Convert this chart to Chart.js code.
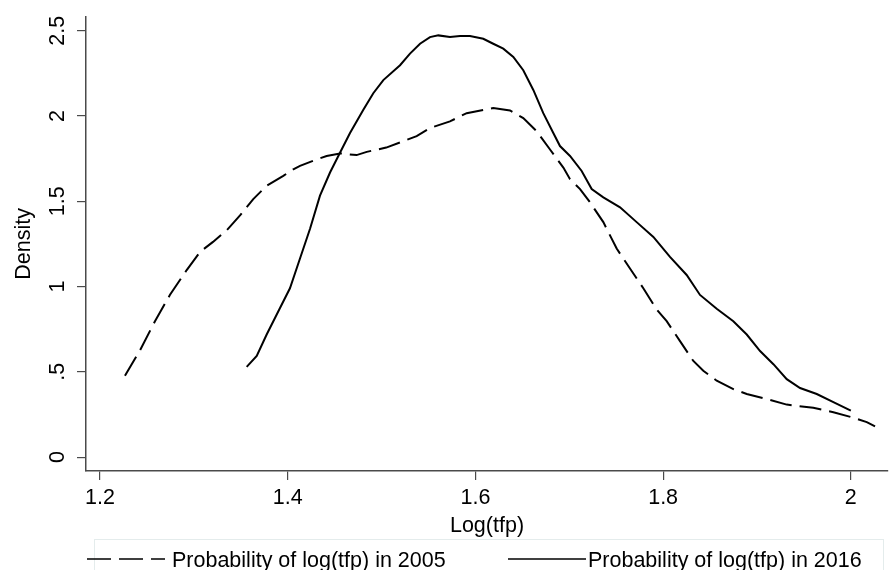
<!DOCTYPE html>
<html>
<head>
<meta charset="utf-8">
<script src="https://cdn.jsdelivr.net/npm/chart.js@4"></script>
<style>
  html, body { margin: 0; padding: 0; background: #ffffff; }
  #c { display: block; }
</style>
</head>
<body>
<canvas id="c" width="891" height="570"></canvas>
<script>
// ---- data ----
const x2005 = [1.2266,1.2426,1.2586,1.2746,1.2924,1.3066,1.3204,1.335,1.3492,1.3633,1.3776,1.3953,1.406,1.4131,1.4309,1.4415,1.4557,1.4734,1.4842,1.505,1.5374,1.5516,1.5729,1.5907,1.619,1.6369,1.651,1.6652,1.6795,1.6937,1.7008,1.7115,1.7221,1.7363,1.7505,1.7647,1.7789,1.7932,1.8038,1.818,1.8322,1.8428,1.8571,1.8748,1.8891,1.9104,1.9317,1.96,1.9814,2.0027,2.017,2.0258];
const y2005 = [0.477,0.626,0.797,0.952,1.097,1.203,1.262,1.330,1.417,1.513,1.591,1.649,1.688,1.708,1.746,1.766,1.781,1.771,1.790,1.815,1.882,1.930,1.969,2.017,2.047,2.033,1.988,1.911,1.804,1.698,1.630,1.572,1.494,1.378,1.223,1.106,0.990,0.865,0.797,0.680,0.564,0.506,0.448,0.399,0.370,0.341,0.308,0.289,0.263,0.231,0.205,0.180];
const x2016 = [1.3563,1.367,1.3776,1.3918,1.4024,1.4131,1.4238,1.4344,1.4451,1.4557,1.4664,1.4806,1.4912,1.5019,1.5197,1.5303,1.541,1.5516,1.5605,1.5729,1.5836,1.5942,1.6084,1.619,1.6297,1.6404,1.651,1.6617,1.6723,1.683,1.6901,1.7008,1.7132,1.7239,1.7363,1.7541,1.7718,1.7896,1.8073,1.8251,1.8393,1.8571,1.8748,1.8891,1.9033,1.9175,1.9317,1.9459,1.9637,1.9814,2.0];
const y2016 = [0.529,0.593,0.719,0.874,0.990,1.165,1.339,1.533,1.669,1.785,1.901,2.037,2.134,2.211,2.298,2.366,2.424,2.463,2.473,2.463,2.469,2.469,2.453,2.424,2.395,2.347,2.269,2.153,2.017,1.901,1.824,1.766,1.678,1.572,1.523,1.465,1.378,1.291,1.174,1.068,0.951,0.870,0.797,0.719,0.622,0.545,0.457,0.405,0.370,0.322,0.273];
const xTicks = [1.2, 1.4, 1.6, 1.8, 2.0];
const xTickLabels = ["1.2", "1.4", "1.6", "1.8", "2"];
const yTicks = [0, 0.5, 1, 1.5, 2, 2.5];
const yTickLabels = ["0", ".5", "1", "1.5", "2", "2.5"];
const seriesNames = ["Probability of log(tfp) in 2005", "Probability of log(tfp) in 2016"];
const xTitle = "Log(tfp)";
const yTitle = "Density";

const FONT = "'Liberation Sans', Arial, Helvetica, sans-serif";
const FS = 21.5;
const AXIS_COLOR = '#4a4a4a';

const toPoints = (xs, ys) => xs.map((x, i) => ({ x: x, y: ys[i] }));

const legendPlugin = {
  id: 'stataLegend',
  afterDraw(chart) {
    const ctx = chart.ctx;
    ctx.save();
    // faint legend frame
    ctx.strokeStyle = '#e4ecec';
    ctx.lineWidth = 1;
    ctx.strokeRect(94.5, 539.5, 789, 40);
    const ds = chart.data.datasets;
    const items = [
      { x0: 87, x1: 165, tx: 172, dash: [24, 8] },
      { x0: 508, x1: 586, tx: 588, dash: [] }
    ];
    items.forEach((it, i) => {
      ctx.beginPath();
      ctx.setLineDash(it.dash);
      ctx.strokeStyle = ds[i].borderColor;
      ctx.lineWidth = 1.6;
      ctx.moveTo(it.x0, 559);
      ctx.lineTo(it.x1, 559);
      ctx.stroke();
      ctx.setLineDash([]);
      ctx.fillStyle = '#000000';
      ctx.font = FS + 'px ' + FONT;
      ctx.textAlign = 'left';
      ctx.textBaseline = 'alphabetic';
      ctx.fillText(ds[i].label, it.tx, 567);
    });
    ctx.restore();
  }
};

new Chart(document.getElementById('c'), {
  type: 'line',
  data: {
    datasets: [
      {
        label: seriesNames[0],
        data: toPoints(x2005, y2005),
        borderColor: '#000000',
        borderWidth: 2,
        borderDash: [22, 8],
        pointRadius: 0,
        tension: 0,
        fill: false
      },
      {
        label: seriesNames[1],
        data: toPoints(x2016, y2016),
        borderColor: '#000000',
        borderWidth: 2,
        pointRadius: 0,
        tension: 0,
        fill: false
      }
    ]
  },
  options: {
    responsive: false,
    animation: false,
    devicePixelRatio: 1,
    layout: { padding: { top: 13, right: 3, bottom: 0, left: 0 } },
    plugins: {
      legend: { display: false },
      tooltip: { enabled: false }
    },
    scales: {
      x: {
        type: 'linear',
        min: 1.1851,
        max: 2.0396,
        afterBuildTicks: (s) => { s.ticks = xTicks.map(v => ({ value: v })); },
        afterFit: (s) => { s.height = 99; },
        border: { display: true, color: AXIS_COLOR, width: 1.5 },
        grid: { display: true, drawOnChartArea: false, drawTicks: true, tickLength: 9, color: AXIS_COLOR, lineWidth: 1.2 },
        ticks: {
          color: '#000000',
          padding: 5,
          maxRotation: 0,
          autoSkip: false,
          font: { family: FONT, size: FS },
          callback: (v) => { const i = xTicks.findIndex(t => Math.abs(t - v) < 1e-9); return i >= 0 ? xTickLabels[i] : ''; }
        },
        title: {
          display: true,
          text: xTitle,
          color: '#000000',
          font: { family: FONT, size: FS },
          padding: { top: 0, bottom: 31 }
        }
      },
      y: {
        type: 'linear',
        min: -0.0814,
        max: 2.5814,
        afterBuildTicks: (s) => { s.ticks = yTicks.map(v => ({ value: v })); },
        afterFit: (s) => { s.width = 86; },
        border: { display: true, color: AXIS_COLOR, width: 1.5 },
        grid: { display: true, drawOnChartArea: false, drawTicks: true, tickLength: 9, color: AXIS_COLOR, lineWidth: 1.2 },
        ticks: {
          color: '#000000',
          padding: 4,
          minRotation: 90,
          maxRotation: 90,
          crossAlign: 'center',
          autoSkip: false,
          font: { family: FONT, size: FS },
          callback: (v) => { const i = yTicks.findIndex(t => Math.abs(t - v) < 1e-9); return i >= 0 ? yTickLabels[i] : ''; }
        },
        title: {
          display: true,
          text: yTitle,
          color: '#000000',
          font: { family: FONT, size: FS },
          padding: { top: 11, bottom: 0 }
        }
      }
    }
  },
  plugins: [legendPlugin]
});
</script>
</body>
</html>
